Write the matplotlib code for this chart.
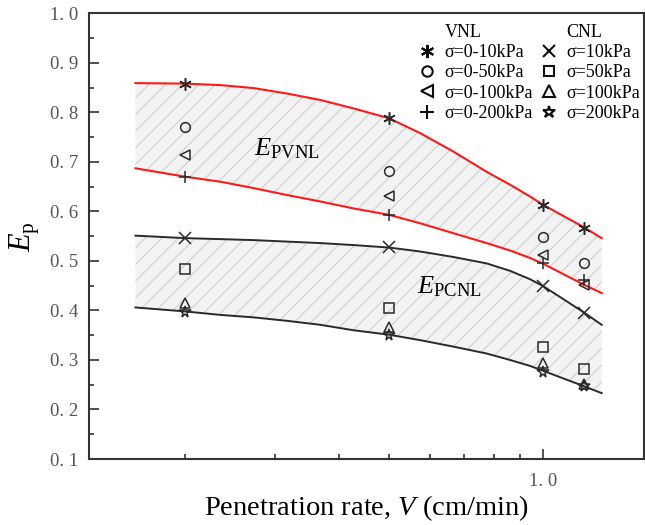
import numpy as np
import matplotlib
matplotlib.use("Agg")
import matplotlib.pyplot as plt
from matplotlib.lines import Line2D
from matplotlib.ticker import NullFormatter

plt.rcParams['font.family'] = ['Liberation Serif', 'DejaVu Serif']
plt.rcParams['mathtext.fontset'] = 'custom'
plt.rcParams['mathtext.rm'] = 'Liberation Serif'
plt.rcParams['mathtext.it'] = 'Liberation Serif:italic'
plt.rcParams['hatch.linewidth'] = 0.6

# measured E_p at each penetration rate (cm/min)
rate = [0.2, 0.5, 1.0, 1.2]

vnl_10 = [0.857, 0.788, 0.613, 0.566]
vnl_50 = [0.770, 0.681, 0.548, 0.495]
vnl_100 = [0.714, 0.632, 0.512, 0.451]
vnl_200 = [0.669, 0.593, 0.495, 0.462]

cnl_10 = [0.546, 0.528, 0.449, 0.395]
cnl_50 = [0.484, 0.405, 0.327, 0.282]
cnl_100 = [0.416, 0.366, 0.294, 0.251]
cnl_200 = [0.397, 0.351, 0.276, 0.247]

# envelope curves
curve_x = [0.16, 0.2, 0.234, 0.272, 0.316, 0.367, 0.426, 0.5, 0.575,
           0.667, 0.775, 0.861, 0.942, 1.0, 1.2, 1.3]
vnl_upper = [0.859, 0.858, 0.855, 0.849, 0.838, 0.825, 0.808, 0.788, 0.758,
             0.721, 0.680, 0.654, 0.630, 0.613, 0.568, 0.546]
vnl_lower = [0.687, 0.670, 0.660, 0.647, 0.633, 0.620, 0.606, 0.593, 0.576,
             0.556, 0.536, 0.521, 0.506, 0.494, 0.452, 0.435]
cnl_upper = [0.551, 0.546, 0.544, 0.542, 0.539, 0.536, 0.532, 0.527, 0.519,
             0.508, 0.495, 0.480, 0.463, 0.449, 0.396, 0.371]
cnl_lower = [0.406, 0.398, 0.391, 0.386, 0.379, 0.371, 0.360, 0.351, 0.340,
             0.327, 0.313, 0.300, 0.288, 0.278, 0.247, 0.233]

y_ticks = [0.1, 0.2, 0.3, 0.4, 0.5, 0.6, 0.7, 0.8, 0.9, 1.0]
y_labels = ['0. 1', '0. 2', '0. 3', '0. 4', '0. 5', '0. 6', '0. 7', '0. 8', '0. 9', '1. 0']

asterisk = (6, 2, 0)
mk_color = '#2a2a2a'

fig = plt.figure(figsize=(6.45, 5.25), dpi=100)
ax = fig.add_axes([0.1384, 0.1257, 0.8600, 0.8490])
ax.set_xscale('log')

# shaded bands
ax.fill_between(curve_x, vnl_lower, vnl_upper, facecolor='#f3f3f3',
                edgecolor='#c4c4c4', hatch='//', linewidth=0, zorder=1)
ax.fill_between(curve_x, cnl_lower, cnl_upper, facecolor='#f3f3f3',
                edgecolor='#c4c4c4', hatch='//', linewidth=0, zorder=1)
ax.plot(curve_x, vnl_upper, color='#ff1a1a', lw=1.5, zorder=2)
ax.plot(curve_x, vnl_lower, color='#ff1a1a', lw=1.5, zorder=2)
ax.plot(curve_x, cnl_upper, color='#2a2a2a', lw=1.4, zorder=2)
ax.plot(curve_x, cnl_lower, color='#2a2a2a', lw=1.4, zorder=2)

series = [
    (vnl_10, asterisk, 'σ=0-10kPa', 9),
    (vnl_50, 'o', 'σ=0-50kPa', 7),
    (vnl_100, '<', 'σ=0-100kPa', 7.5),
    (vnl_200, '+', 'σ=0-200kPa', 9),
    (cnl_10, 'x', 'σ=10kPa', 8.5),
    (cnl_50, 's', 'σ=50kPa', 6.5),
    (cnl_100, '^', 'σ=100kPa', 7.5),
    (cnl_200, '*', 'σ=200kPa', 8.5),
]
handles = []
for vals, mk, lab, ms in series:
    ax.plot(rate, vals, linestyle='none', marker=mk, ms=ms, mfc='none',
            mec=mk_color, mew=1.1, zorder=3)
    handles.append(Line2D([], [], linestyle='none', marker=mk, ms=ms + 0.5, mfc='none',
                          mec='#111111', mew=1.5, label=lab))

blank = Line2D([], [], linestyle='none', marker='')
leg_handles = [blank] + handles[:4] + [blank] + handles[4:]
leg_labels = ['VNL'] + [h.get_label() for h in handles[:4]] + ['CNL'] + [h.get_label() for h in handles[4:]]
ax.legend(leg_handles, leg_labels, ncol=2, loc='upper left',
          bbox_to_anchor=(0.592, 0.976), frameon=False, fontsize=13,
          handlelength=1.0, handletextpad=0.5, columnspacing=0.35,
          labelspacing=0.18, borderaxespad=0, borderpad=0)

ax.text(0.272, 0.714, r'$E_{\mathrm{PVNL}}$', fontsize=19, ha='left', va='baseline')
ax.text(0.566, 0.435, r'$E_{\mathrm{PCNL}}$', fontsize=19, ha='left', va='baseline')

ax.set_xlim(0.130, 1.572)
ax.set_ylim(0.1, 1.0)
ax.set_xticks([1.0])
ax.set_xticklabels(['1. 0'])
ax.set_xticks([0.2, 0.3, 0.4, 0.5, 0.6, 0.7, 0.8, 0.9], minor=True)
ax.xaxis.set_minor_formatter(NullFormatter())
ax.set_yticks(y_ticks)
ax.set_yticklabels(y_labels)
ax.set_yticks(np.arange(0.15, 1.0, 0.1), minor=True)

ax.tick_params(which='both', direction='in', color='#333333', width=1.2,
               labelcolor='#555555', labelsize=13.5)
ax.tick_params(which='major', length=7.5)
ax.tick_params(which='minor', length=3.5)
ax.tick_params(axis='y', pad=8)
ax.tick_params(axis='x', pad=10)
ax.tick_params(top=False, right=False, which='both')
for sp in ax.spines.values():
    sp.set_linewidth(1.5)
    sp.set_color('#333333')

ax.set_xlabel('Penetration rate, $V$ (cm/min)', fontsize=20.5)
ax.set_ylabel(r'$E_{\mathrm{p}}$', fontsize=22)
ax.xaxis.set_label_coords(0.5, -0.076)
ax.yaxis.set_label_coords(-0.085, 0.5)

fig.savefig('out.png', dpi=100)
